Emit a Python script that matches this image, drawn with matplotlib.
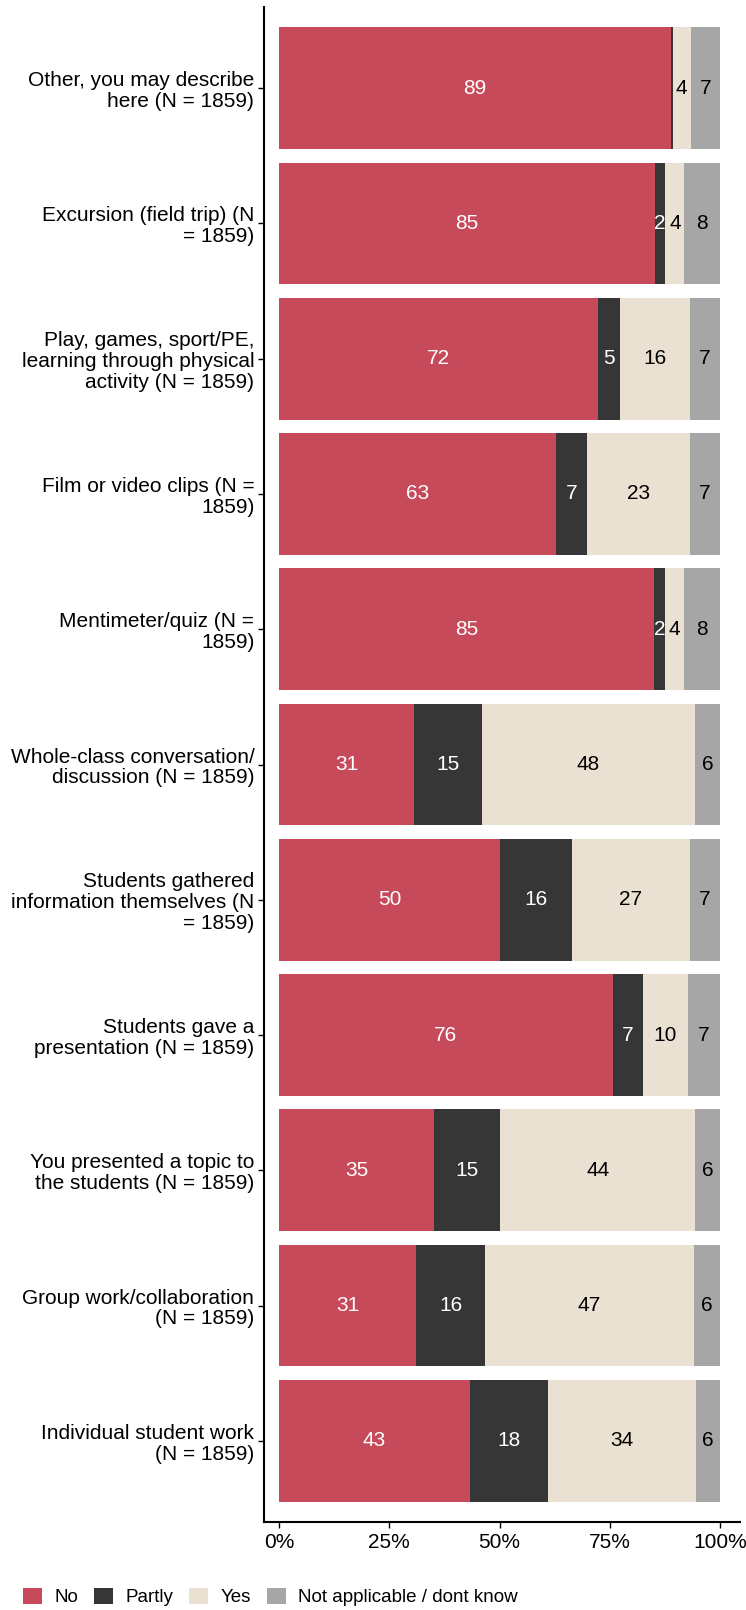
import numpy as np
import matplotlib
matplotlib.use('Agg')
import matplotlib.pyplot as plt
from matplotlib.patches import Patch

plt.rcParams['font.family'] = ['Liberation Sans', 'DejaVu Sans']

categories = [
    'Other, you may describe\nhere (N = 1859)',
    'Excursion (field trip) (N\n= 1859)',
    'Play, games, sport/PE,\nlearning through physical\nactivity (N = 1859)',
    'Film or video clips (N =\n1859)',
    'Mentimeter/quiz (N =\n1859)',
    'Whole-class conversation/\ndiscussion (N = 1859)',
    'Students gathered\ninformation themselves (N\n= 1859)',
    'Students gave a\npresentation (N = 1859)',
    'You presented a topic to\nthe students (N = 1859)',
    'Group work/collaboration\n(N = 1859)',
    'Individual student work\n(N = 1859)',
]
no = [88.9, 85.2, 72.3, 62.8, 85.0, 30.7, 50.2, 75.6, 35.1, 31.1, 43.2]
partly = [0.3, 2.4, 4.9, 7.0, 2.4, 15.4, 16.2, 7.0, 15.1, 15.6, 17.7]
yes = [4.2, 4.3, 15.9, 23.4, 4.4, 48.1, 26.8, 10.0, 44.1, 47.4, 33.6]
na = [6.6, 8.1, 6.9, 6.8, 8.2, 5.8, 6.8, 7.4, 5.7, 5.9, 5.5]

series = ['No', 'Partly', 'Yes', 'Not applicable / dont know']
colors = ['#C74A5A', '#363636', '#EBE1D2', '#A6A6A6']
textColors = ['white', 'white', 'black', 'black']

fig = plt.figure(figsize=(7.46, 16.1), dpi=100)
ax = fig.add_axes([264 / 746, 1 - 1522 / 1610, (740 - 264) / 746, (1522 - 7) / 1610])

y = np.arange(len(categories))
left = np.zeros(len(categories))
for values, color, tc in zip([no, partly, yes, na], colors, textColors):
    values = np.array(values)
    ax.barh(y, values, left=left, height=0.9, color=color, linewidth=0)
    for i, v in enumerate(values):
        if round(v) >= 1:
            ax.text(left[i] + v / 2, y[i], str(int(round(v))), ha='center', va='center',
                    color=tc, fontsize=15)
    left += values

ax.set_xlim(-3.4, 104.5)
ax.set_ylim(len(categories) - 1 + 0.6, -0.6)
ax.set_yticks(y)
ax.set_yticklabels(categories, fontsize=15, linespacing=1.12)
ax.set_xticks([0, 25, 50, 75, 100])
ax.set_xticklabels(['0%', '25%', '50%', '75%', '100%'], fontsize=15)
ax.tick_params(axis='both', length=4, width=1, color='black', labelcolor='black')
ax.tick_params(axis='y', pad=3)
ax.tick_params(axis='x', pad=4)
for s in ['top', 'right']:
    ax.spines[s].set_visible(False)
for s in ['left', 'bottom']:
    ax.spines[s].set_linewidth(1.5)

handles = [Patch(facecolor=c, edgecolor='none', label=s) for s, c in zip(series, colors)]
fig.legend(handles=handles, loc='center left', bbox_to_anchor=(23 / 746, 1 - 1597 / 1610),
           ncol=4, frameon=False, fontsize=13.5, handlelength=1.0, handleheight=1.0,
           handletextpad=0.67, columnspacing=0.85, borderaxespad=0, borderpad=0)

fig.savefig('out.png', dpi=100)
